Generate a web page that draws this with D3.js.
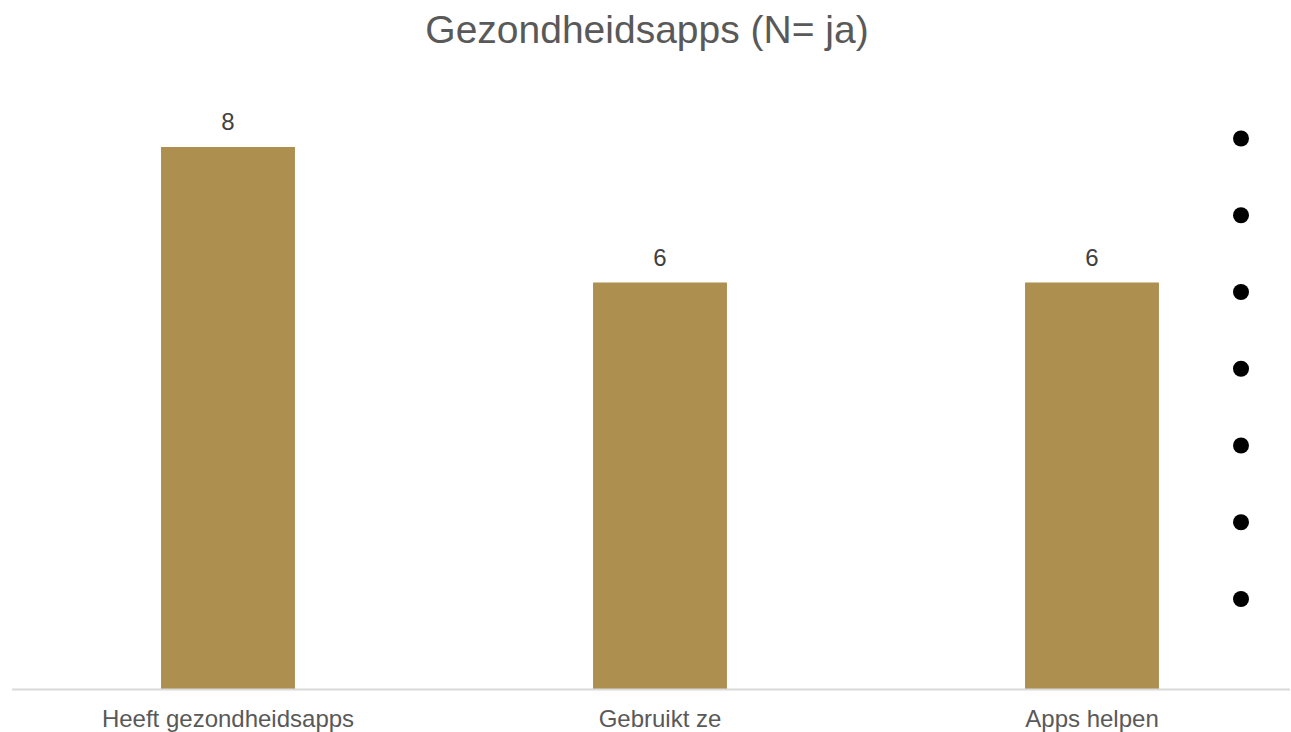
<!DOCTYPE html>
<html>
<head>
<meta charset="utf-8">
<script src="https://cdn.jsdelivr.net/npm/d3@7"></script>
<style>
  body { margin: 0; background: #fff; }
  svg { display: block; font-family: "Liberation Sans", Arial, sans-serif; }
</style>
</head>
<body>
<svg id="barsvg" width="1291" height="732"></svg>
<script>
// chart data
var categories = ["Heeft gezondheidsapps", "Gebruikt ze", "Apps helpen"];
var values = [8, 6, 6];
var legendItems = ["", "", "", "", "", "", ""];
var title = "Gezondheidsapps (N= ja)";

var svg = d3.select("#barsvg"),
    width = +svg.attr("width"),
    height = +svg.attr("height");

// set x scale
var x = d3.scaleBand()
    .domain(categories)
    .range([12, 1308])
    .paddingInner(0.69)
    .paddingOuter(0.345);

// set y scale
var y = d3.scaleLinear()
    .domain([0, 8])
    .range([689, 147]);

// title
svg.append("text")
    .attr("x", 647)
    .attr("y", 43)
    .attr("text-anchor", "middle")
    .attr("font-size", "39px")
    .attr("fill", "#595959")
    .text(title);

// bars
svg.append("g")
    .selectAll("rect")
    .data(values)
    .enter().append("rect")
    .attr("x", function (d, i) { return x(categories[i]); })
    .attr("y", function (d) { return y(d); })
    .attr("width", x.bandwidth())
    .attr("height", function (d) { return y(0) - y(d); })
    .attr("fill", "#ad904f");

// value labels
svg.append("g")
    .selectAll("text")
    .data(values)
    .enter().append("text")
    .attr("x", function (d, i) { return x(categories[i]) + x.bandwidth() / 2; })
    .attr("y", function (d) { return y(d) - 17; })
    .attr("text-anchor", "middle")
    .attr("font-size", "24px")
    .attr("fill", "#404040")
    .text(function (d) { return d; });

// x axis
var xAxis = svg.append("g")
    .attr("transform", "translate(0," + y(0) + ")")
    .call(d3.axisBottom(x).tickSize(0).tickPadding(21));

xAxis.select(".domain")
    .attr("d", "M12,0.5H1290")
    .attr("stroke", "#d9d9d9")
    .attr("stroke-width", 2);

xAxis.selectAll("text")
    .attr("font-size", "24px")
    .attr("font-family", "Liberation Sans, Arial, sans-serif")
    .attr("fill", "#595959");

// legend (markers only)
var ly = d3.scalePoint()
    .domain(d3.range(legendItems.length))
    .range([138.5, 599]);

var legend = svg.append("g")
    .selectAll("g")
    .data(legendItems)
    .enter().append("g")
    .attr("transform", function (d, i) { return "translate(1241," + ly(i) + ")"; });

legend.append("circle")
    .attr("r", 8)
    .attr("fill", "#000");

legend.append("text")
    .attr("x", 14)
    .attr("dy", "0.32em")
    .attr("font-size", "14px")
    .text(function (d) { return d; });
</script>
</body>
</html>
